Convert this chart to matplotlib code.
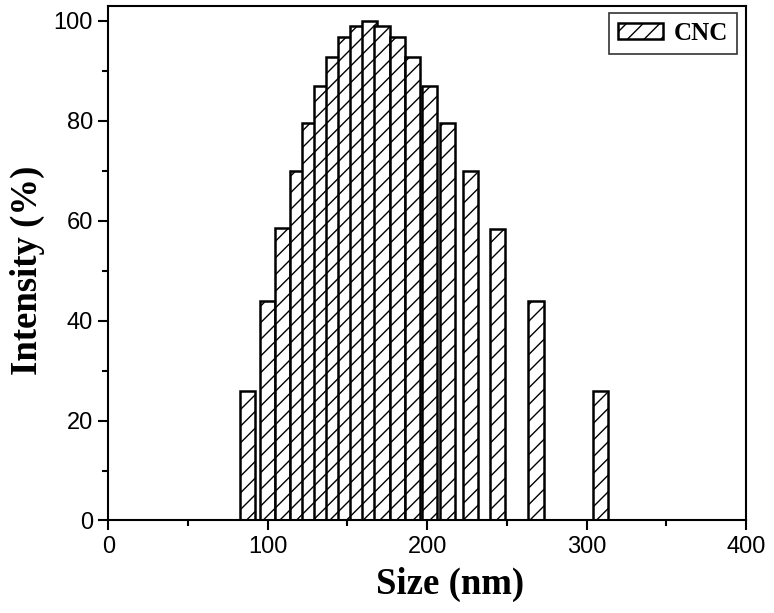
import matplotlib
matplotlib.use("Agg")
import matplotlib.pyplot as plt
from matplotlib.ticker import MultipleLocator

sizes = [87.1, 99.7, 109.3, 118.8, 126.5, 133.9, 141.3, 148.8, 156.3, 163.9,
         171.7, 181.2, 190.6, 201.3, 212.8, 227.0, 244.3, 268.3, 308.5]
intensity = [25.9, 44.0, 58.5, 70.0, 79.5, 87.0, 92.7, 96.7, 99.0, 100.0,
             99.0, 96.7, 92.7, 87.0, 79.5, 70.0, 58.4, 43.9, 25.9]
series_label = "CNC"
x_ticks = [0, 100, 200, 300, 400]
y_ticks = [0, 20, 40, 60, 80, 100]

plt.rcParams['hatch.linewidth'] = 1.0

fig = plt.figure(figsize=(7.74, 6.13), dpi=100)
ax = fig.add_axes([0.1399, 0.1509, 0.9638 - 0.1399, 0.9902 - 0.1509])

ax.bar(sizes, intensity, width=9.5, facecolor='white', edgecolor='black',
       linewidth=1.8, hatch='//', label=series_label)

ax.set_xlim(0, 400)
ax.set_ylim(0, 103)
ax.set_xticks(x_ticks)
ax.set_yticks(y_ticks)
ax.xaxis.set_minor_locator(MultipleLocator(50))
ax.yaxis.set_minor_locator(MultipleLocator(10))
ax.tick_params(which='major', direction='out', length=7, width=1.5,
               top=False, right=False, pad=4)
ax.tick_params(which='minor', direction='out', length=4, width=1.5,
               top=False, right=False)
for lab in ax.get_xticklabels() + ax.get_yticklabels():
    lab.set_fontfamily('Liberation Sans')
    lab.set_fontsize(17)
for s in ax.spines.values():
    s.set_linewidth(1.5)

ax.set_xlabel('Size (nm)', fontfamily='Liberation Serif', fontweight='bold',
              fontsize=26.5, labelpad=6)
ax.xaxis.set_label_coords(0.536, -0.09)
ax.set_ylabel('Intensity (%)', fontfamily='Liberation Serif', fontweight='bold',
              fontsize=26.5, labelpad=6)
ax.yaxis.set_label_coords(-0.099, 0.487)

leg = ax.legend(loc='upper right', bbox_to_anchor=(0.986, 0.986),
                prop={'family': 'Liberation Serif', 'weight': 'bold', 'size': 18},
                frameon=True, fancybox=False, edgecolor='black',
                handlelength=1.8, handleheight=0.6, handletextpad=0.45,
                borderpad=0.35, borderaxespad=0)
leg.get_frame().set_linewidth(1.2)

fig.savefig('out.png', dpi=100)
